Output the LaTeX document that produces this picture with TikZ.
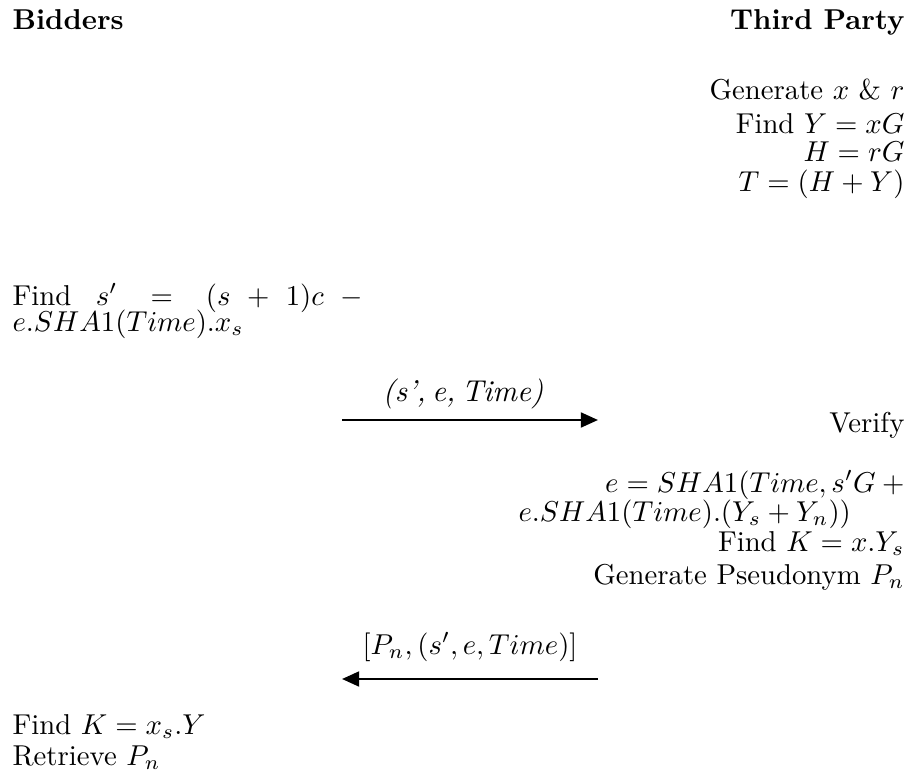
\documentclass[tikz,border=0pt]{standalone}
\usetikzlibrary{arrows.meta}
\begin{document}
\begin{tikzpicture}[x=0.348pt,y=-0.348pt,
  lt/.style={anchor=base west,inner sep=0pt},
  rt/.style={anchor=base east,inner sep=0pt},
  lbl/.style={anchor=base,inner sep=0pt},
  msg/.style={line width=0.85pt,-{Triangle[length=6pt,width=5.2pt]}}]
\useasboundingbox (0,0) rectangle (914,777);
% headers
\node[lt] (bid) at (12,30) {\textbf{Bidders}};
\node[rt] (tp) at (905,30) {\textbf{Third Party}};
% third party setup
\node[rt] (g1) at (905,100) {Generate $x$ \& $r$};
\node[rt] (g2) at (905,134) {Find $Y = xG$};
\node[rt] (g3) at (905,162) {$H = rG$};
\node[rt] (g4) at (905,191) {$T = (H + Y)$};
% bidder computation
\node[lt] (b1) at (12,305) {\makebox[121.8pt][s]{Find $s' = (s + 1)c\mskip\medmuskip-$}};
\node[lt] (b2) at (12,331) {$e.SHA1(Time).x_s$};
% message 1
\coordinate (m1s) at (342,420);
\coordinate (m1e) at (598,420);
\draw[msg] (m1s) -- (m1e);
\node[lbl] (l1) at (463,401) {\fontsize{10.5}{12}\selectfont\itshape\spaceskip=2.2pt (s', e, Time)};
% verify
\node[rt] (v0) at (905,432) {Verify};
\node[rt] (v1) at (905,492) {$e = SHA1(Time, s'G\mskip\medmuskip+$};
\node[lt] (v2) at (518,521) {$e.SHA1(Time).(Y_s + Y_n))$};
\node[rt] (v3) at (905,551) {Find $K = x.Y_s$};
\node[rt] (v4) at (905,584) {Generate Pseudonym $P_n$};
% message 2
\coordinate (m2s) at (598,679);
\coordinate (m2e) at (342,679);
\draw[msg] (m2s) -- (m2e);
\node[lbl] (l2) at (470,654) {$[P_n, (s', e, Time)]$};
% bidder final
\node[lt] (f1) at (12,734) {Find $K = x_s.Y$};
\node[lt] (f2) at (12,765) {Retrieve $P_n$};
\end{tikzpicture}
\end{document}
